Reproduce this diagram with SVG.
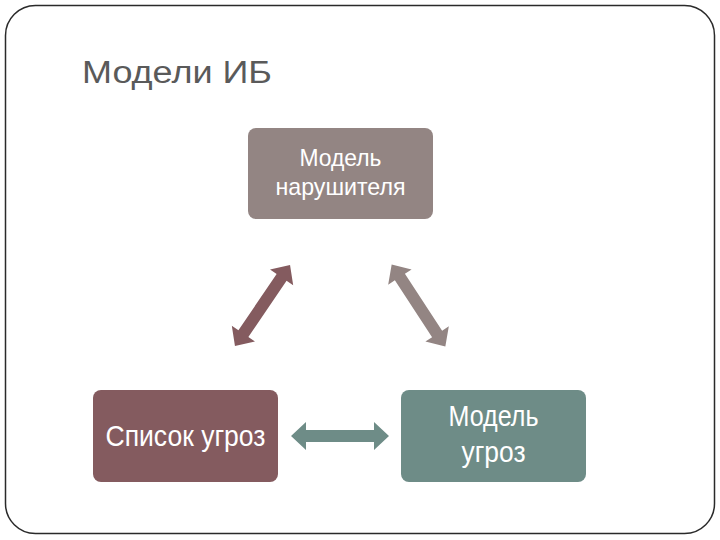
<svg xmlns="http://www.w3.org/2000/svg" width="720" height="540" viewBox="0 0 720 540">
<defs>
<style>
.t{font-family:"Liberation Sans",Arial,sans-serif;fill:#fff;text-anchor:middle}
</style>
<polygon id="dbl" points="-49,0 -34,-14 -34,-6 34,-6 34,-14 49,0 34,14 34,6 -34,6 -34,14"/>
</defs>
<rect width="720" height="540" fill="#fff"/>
<rect x="5.5" y="5.5" width="709" height="528" rx="30" fill="none" stroke="#2a2a2a" stroke-width="1.5"/>
<text x="82" y="83" font-family="Liberation Sans,Arial,sans-serif" font-size="31" fill="#5a5a5a" textLength="190" lengthAdjust="spacingAndGlyphs">Модели ИБ</text>
<g id="connectors">
<use href="#dbl" fill="#845B5F" transform="translate(262.5,305.5) rotate(-55.8)"/>
<use href="#dbl" fill="#938583" transform="translate(418.5,305.5) rotate(56.8)"/>
<use href="#dbl" fill="#6E8C87" transform="translate(340,436)"/>
</g>
<g id="n1">
<rect x="248" y="128" width="185" height="91" rx="8" fill="#938583"/>
<text class="t" font-size="24" x="340.5" y="166" textLength="82" lengthAdjust="spacingAndGlyphs">Модель</text>
<text class="t" font-size="24" x="340.5" y="195" textLength="130" lengthAdjust="spacingAndGlyphs">нарушителя</text>
</g>
<g id="n2">
<rect x="93" y="390" width="185" height="92" rx="8" fill="#845B5F"/>
<text class="t" font-size="29" x="185.5" y="446" textLength="160" lengthAdjust="spacingAndGlyphs">Список угроз</text>
</g>
<g id="n3">
<rect x="401" y="390" width="185" height="92" rx="8" fill="#6E8C87"/>
<text class="t" font-size="29" x="493.5" y="426" textLength="90" lengthAdjust="spacingAndGlyphs">Модель</text>
<text class="t" font-size="29" x="493.5" y="462" textLength="64" lengthAdjust="spacingAndGlyphs">угроз</text>
</g>
</svg>
